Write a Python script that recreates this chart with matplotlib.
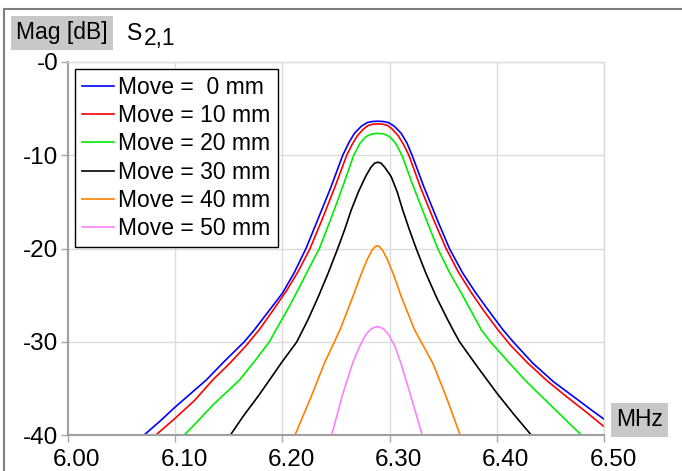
import matplotlib
matplotlib.use("Agg")
import matplotlib.pyplot as plt
import matplotlib.transforms as mtransforms
from matplotlib.lines import Line2D

plt.rcParams['font.family'] = ['Liberation Sans', 'DejaVu Sans']

# S21 magnitude (dB), one curve per "Move" setting
f_0mm = [6.071, 6.085, 6.100, 6.115, 6.129, 6.145, 6.160, 6.1645, 6.174, 6.188, 6.200,
         6.211, 6.222, 6.233, 6.245, 6.2563, 6.262, 6.2672, 6.2735, 6.279, 6.284, 6.289,
         6.294, 6.299, 6.3045, 6.3108, 6.316, 6.321, 6.332, 6.344, 6.3558, 6.368, 6.380,
         6.392, 6.4056, 6.416, 6.4336, 6.453, 6.4741, 6.488, 6.500]
db_0mm = [-40.0, -38.6, -37.0, -35.5, -34.1, -32.2, -30.5, -30.0, -28.7, -26.6, -24.8,
          -22.6, -20.0, -16.9, -13.5, -10.0, -8.65, -7.65, -6.9, -6.5, -6.38, -6.35,
          -6.38, -6.5, -6.9, -7.65, -8.65, -10.0, -13.4, -16.8, -20.0, -22.6, -24.7,
          -26.6, -28.7, -30.1, -32.3, -34.3, -36.1, -37.3, -38.3]

f_10mm = [6.082, 6.100, 6.118, 6.135, 6.151, 6.1655, 6.1785, 6.192, 6.204, 6.215, 6.2258,
          6.237, 6.249, 6.260, 6.265, 6.270, 6.2755, 6.280, 6.2845, 6.289, 6.2935, 6.298,
          6.3025, 6.308, 6.313, 6.318, 6.329, 6.341, 6.3527, 6.364, 6.376, 6.388, 6.4009,
          6.413, 6.429, 6.447, 6.4663, 6.483, 6.500]
db_10mm = [-40.0, -38.2, -36.3, -34.1, -32.3, -30.5, -28.7, -26.5, -24.5, -22.4, -20.0,
           -16.9, -13.4, -10.0, -8.85, -7.9, -7.2, -6.8, -6.67, -6.63, -6.67, -6.8,
           -7.2, -7.9, -8.85, -10.0, -13.5, -16.9, -20.0, -22.5, -24.7, -26.7, -28.7,
           -30.4, -32.3, -34.2, -36.0, -37.5, -39.1]

f_20mm = [6.1085, 6.122, 6.135, 6.148, 6.160, 6.174, 6.1879, 6.1941, 6.206, 6.217, 6.224,
          6.2345, 6.246, 6.2568, 6.2665, 6.2725, 6.278, 6.2835, 6.289, 6.2945, 6.300,
          6.3055, 6.3115, 6.322, 6.3335, 6.3449, 6.356, 6.367, 6.376, 6.3854, 6.394,
          6.4119, 6.427, 6.443, 6.460, 6.4788]
db_20mm = [-40.0, -38.4, -36.8, -35.4, -34.1, -32.1, -30.0, -28.7, -26.3, -23.9, -22.3,
           -20.0, -16.6, -13.2, -10.0, -8.7, -8.0, -7.72, -7.65, -7.72, -8.0,
           -8.7, -10.0, -13.3, -16.7, -20.0, -22.6, -24.8, -26.7, -28.7, -30.0,
           -32.3, -34.2, -36.0, -37.9, -40.0]

f_30mm = [6.1515, 6.164, 6.177, 6.188, 6.1988, 6.2135, 6.224, 6.233, 6.2425, 6.2516,
          6.258, 6.2641, 6.271, 6.2775, 6.2825, 6.286, 6.289, 6.292, 6.2955, 6.3015,
          6.307, 6.3123, 6.3185, 6.3248, 6.334, 6.344, 6.354, 6.359, 6.3652, 6.382,
          6.400, 6.416, 6.4321]
db_30mm = [-40.0, -37.9, -35.9, -34.1, -32.3, -30.0, -27.6, -25.3, -22.7, -20.0,
           -18.0, -15.9, -13.9, -12.3, -11.3, -10.85, -10.75, -10.85, -11.3, -12.3,
           -13.9, -15.9, -18.0, -20.0, -22.7, -25.3, -27.6, -28.7, -30.0, -32.7,
           -35.5, -37.8, -40.0]

f_40mm = [6.2118, 6.2268, 6.2392, 6.2538, 6.2656, 6.273, 6.279, 6.2835, 6.2865, 6.2885,
          6.2905, 6.2935, 6.298, 6.304, 6.311, 6.3232, 6.3403, 6.3528, 6.3658]
db_40mm = [-40.0, -35.9, -32.3, -28.7, -25.2, -22.9, -21.2, -20.2, -19.8, -19.7,
           -19.8, -20.2, -21.2, -22.9, -25.2, -28.7, -32.3, -35.9, -40.0]

f_50mm = [6.246, 6.2555, 6.2655, 6.272, 6.278, 6.2825, 6.2858, 6.2885, 6.2912, 6.2945,
          6.299, 6.305, 6.3105, 6.320, 6.3304]
db_50mm = [-40.0, -35.9, -32.3, -30.5, -29.2, -28.65, -28.45, -28.4, -28.45, -28.65,
           -29.2, -30.5, -32.3, -35.9, -40.0]

labels = ['Move =  0 mm', 'Move = 10 mm', 'Move = 20 mm',
          'Move = 30 mm', 'Move = 40 mm', 'Move = 50 mm']
colors = ['#0000ff', '#ff0000', '#00ee00', '#000000', '#ff8000', '#ff80ff']

x_ticks = [6.00, 6.10, 6.20, 6.30, 6.40, 6.50]
y_ticks = [-40, -30, -20, -10, 0]
y_ticklabels = ['-40', '-30', '-20', '-10', '-0']

fig = plt.figure(figsize=(6.82, 4.71), dpi=100)
ax = fig.add_axes([68/682, 1-435/471, (604-68)/682, (435-62)/471])

curves = [(f_0mm, db_0mm), (f_10mm, db_10mm), (f_20mm, db_20mm),
          (f_30mm, db_30mm), (f_40mm, db_40mm), (f_50mm, db_50mm)]
for (f, db), lab, col in zip(curves, labels, colors):
    ax.plot(f, db, color=col, lw=1.2, label=lab, solid_joinstyle='round')

ax.set_xlim(6.0, 6.5)
ax.set_ylim(-40, 0)
ax.set_xticks(x_ticks)
ax.set_xticklabels(['%.2f' % v for v in x_ticks])
ax.set_yticks(y_ticks)
ax.set_yticklabels(y_ticklabels)
ax.grid(True, color='#dcdcdc', lw=1)
ax.set_axisbelow(True)
ax.tick_params(labelsize=17.5, length=5, width=1, color='#a8a8a8')
ax.tick_params(axis='x', pad=5)
ax.tick_params(axis='y', pad=2)

# the source program draws the frequency labels a bit right of their ticks
shift = mtransforms.ScaledTranslation(9/100, 0, fig.dpi_scale_trans)
for lbl in ax.get_xticklabels():
    lbl.set_transform(lbl.get_transform() + shift)

for s in ['top', 'right']:
    ax.spines[s].set_color('#dcdcdc')
    ax.spines[s].set_linewidth(1)
for s in ['left', 'bottom']:
    ax.spines[s].set_color('#a0a0a0')
    ax.spines[s].set_linewidth(1.5)

leg = ax.legend(loc='upper left', fontsize=16.5, fancybox=False, framealpha=1,
                edgecolor='black', handlelength=1.4, handletextpad=0.2,
                labelspacing=0.23, borderpad=0.3, borderaxespad=0.3)
leg.get_frame().set_linewidth(1.0)

# axis captions with grey boxes, as in the source tool
fig.text(16/682, 1-33/471, 'Mag [dB]', fontsize=16.5, va='center', ha='left',
         bbox=dict(facecolor='#c8c8c8', edgecolor='none', pad=4))
fig.text(127/682, 1-34/471, 'S', fontsize=16.5, va='center', ha='left')
fig.text(144/682, 1-38/471, '2,1', fontsize=16.5, va='center', ha='left')
fig.text(616/682, 1-420/471, 'MHz', fontsize=16.5, va='center', ha='left',
         bbox=dict(facecolor='#c8c8c8', edgecolor='none', pad=4))

# outer frame (top and left edges visible)
fig.add_artist(Line2D([4/682, 4/682], [0, 1-9/471], color='#808080', lw=1.5))
fig.add_artist(Line2D([4/682, 1], [1-9/471, 1-9/471], color='#808080', lw=1.5))

fig.savefig('out.png', dpi=100)
